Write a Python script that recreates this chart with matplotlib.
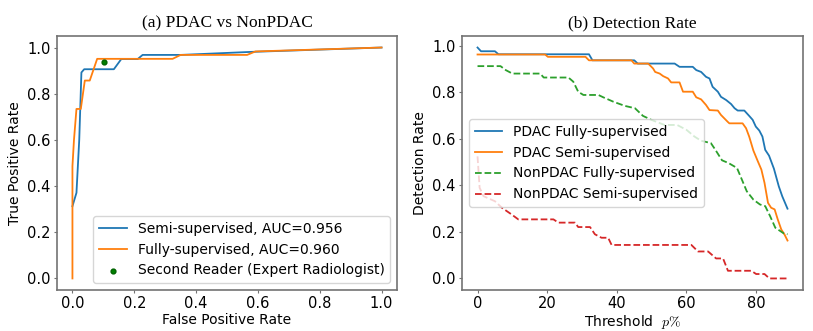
import matplotlib.pyplot as plt

# (a) ROC curves, vertices
semi_fpr = [0.0, 0.013, 0.022, 0.029, 0.038, 0.134, 0.158, 0.211, 0.227, 0.35, 0.576, 1.0]
semi_tpr = [0.313, 0.371, 0.601, 0.892, 0.906, 0.906, 0.950, 0.950, 0.968, 0.968, 0.981, 1.0]
fully_fpr = [0.0, 0.0, 0.005, 0.013, 0.027, 0.040, 0.056, 0.080, 0.324, 0.35, 0.565, 0.592, 1.0]
fully_tpr = [0.0, 0.486, 0.601, 0.734, 0.734, 0.857, 0.857, 0.951, 0.951, 0.968, 0.968, 0.983, 1.0]
reader_fpr = [0.102]
reader_tpr = [0.937]

# (b) detection rate vs threshold
pdac_fully_x = [0, 1, 5, 6, 32, 33, 45, 46, 56.6, 58, 61.8, 62.8, 64.2, 65.6, 66.6, 67.5, 69, 69.9,
                71.4, 72.8, 73.8, 74.7, 76.6, 78, 79, 79.9, 80.9, 81.8, 82.6, 83.7, 85.1, 86.5, 87.5, 89]
pdac_fully_y = [0.993, 0.977, 0.977, 0.964, 0.964, 0.938, 0.938, 0.924, 0.924, 0.910, 0.910, 0.896,
                0.888, 0.867, 0.860, 0.824, 0.803, 0.781, 0.767, 0.750, 0.732, 0.722, 0.722, 0.699,
                0.682, 0.653, 0.636, 0.610, 0.553, 0.528, 0.472, 0.396, 0.353, 0.300]
pdac_semi_x = [0, 19.4, 20.2, 31, 32, 44.2, 45, 49, 50.4, 51, 52.3, 53.3, 54.7, 55.6, 58, 59, 61.8,
               62.8, 64.2, 65.6, 66.6, 69, 69.9, 71.8, 72.3, 76.1, 77.1, 78, 79.2, 80.5, 81.5, 82.4,
               83.4, 84.3, 85.3, 86.2, 87.2, 88.1, 89]
pdac_semi_y = [0.963, 0.963, 0.953, 0.953, 0.938, 0.938, 0.924, 0.924, 0.903, 0.888, 0.881, 0.870,
               0.860, 0.843, 0.843, 0.803, 0.803, 0.779, 0.770, 0.746, 0.724, 0.722, 0.703, 0.674,
               0.667, 0.667, 0.646, 0.610, 0.550, 0.503, 0.468, 0.411, 0.325, 0.304, 0.297, 0.254,
               0.211, 0.190, 0.163]
non_fully_x = [0, 6.6, 8.1, 10, 18, 19, 26.1, 27.5, 28.9, 30.4, 34.7, 36.1, 39, 42.3, 45.2, 47.5,
               49.9, 53.7, 57.3, 60, 62.3, 64.2, 67, 68.3, 70.2, 72.1, 74.5, 75.9, 77.3, 79.2, 81.1,
               82.6, 84, 85.5, 86.9, 87.9, 89]
non_fully_y = [0.913, 0.913, 0.896, 0.881, 0.881, 0.864, 0.864, 0.846, 0.803, 0.789, 0.789, 0.779,
               0.760, 0.742, 0.732, 0.699, 0.682, 0.660, 0.660, 0.639, 0.610, 0.592, 0.582, 0.553,
               0.508, 0.496, 0.475, 0.425, 0.375, 0.339, 0.318, 0.311, 0.268, 0.218, 0.204, 0.194,
               0.190]
non_semi_x = [0, 0.6, 1.7, 3.2, 5, 7, 9.8, 11.7, 21.8, 23.2, 28, 28.9, 32.3, 33.7, 35.6, 37.5, 38.5,
              61.4, 63.3, 66.2, 68.5, 70.5, 71.9, 78.6, 80, 82.4, 83.8, 89]
non_semi_y = [0.525, 0.390, 0.354, 0.344, 0.332, 0.304, 0.275, 0.254, 0.254, 0.240, 0.240, 0.221,
              0.221, 0.190, 0.175, 0.175, 0.144, 0.144, 0.116, 0.116, 0.086, 0.086, 0.033, 0.033,
              0.019, 0.019, 0.0, 0.0]

plt.rcParams['mathtext.fontset'] = 'cm'
plt.rcParams['font.size'] = 10

fig = plt.figure(figsize=(8.13, 3.31), dpi=100)
ax1 = fig.add_axes([0.0701, 0.1239, 0.4182, 0.7674])
ax2 = fig.add_axes([0.5683, 0.1239, 0.4194, 0.7674])

ax1.plot(semi_fpr, semi_tpr, color='tab:blue', lw=1.3, label='Semi-supervised, AUC=0.956')
ax1.plot(fully_fpr, fully_tpr, color='tab:orange', lw=1.3, label='Fully-supervised, AUC=0.960')
ax1.scatter(reader_fpr, reader_tpr, s=12, color='green', edgecolors='darkgreen', zorder=3,
            label='Second Reader (Expert Radiologist)')
ax1.set_xlabel('False Positive Rate')
ax1.set_ylabel('True Positive Rate', labelpad=4)
ax1.set_title('(a) PDAC vs NonPDAC', family='Liberation Serif', fontsize=12.5)
ax1.legend(loc='lower right', fontsize=10)

ax2.plot(pdac_fully_x, pdac_fully_y, color='tab:blue', lw=1.3, label='PDAC Fully-supervised')
ax2.plot(pdac_semi_x, pdac_semi_y, color='tab:orange', lw=1.3, label='PDAC Semi-supervised')
ax2.plot(non_fully_x, non_fully_y, color='tab:green', lw=1.3, ls='--', label='NonPDAC Fully-supervised')
ax2.plot(non_semi_x, non_semi_y, color='tab:red', lw=1.3, ls='--', label='NonPDAC Semi-supervised')
ax2.set_xlabel(r'Threshold  $p\%$')
ax2.set_ylabel('Detection Rate', labelpad=4)
ax2.set_title('(b) Detection Rate', family='Liberation Serif', fontsize=12.5)
ax2.set_xticks([0, 20, 40, 60, 80])
ax2.legend(loc='center left', fontsize=10)

for ax in (ax1, ax2):
    for sp in ax.spines.values():
        sp.set_color('0.45')
        sp.set_linewidth(1.2)
    ax.tick_params(labelsize=10.5, color='0.45', length=2.5, pad=2)
    ax.xaxis.set_label_coords(0.5, -0.09)

fig.savefig('out.png', dpi=100)
